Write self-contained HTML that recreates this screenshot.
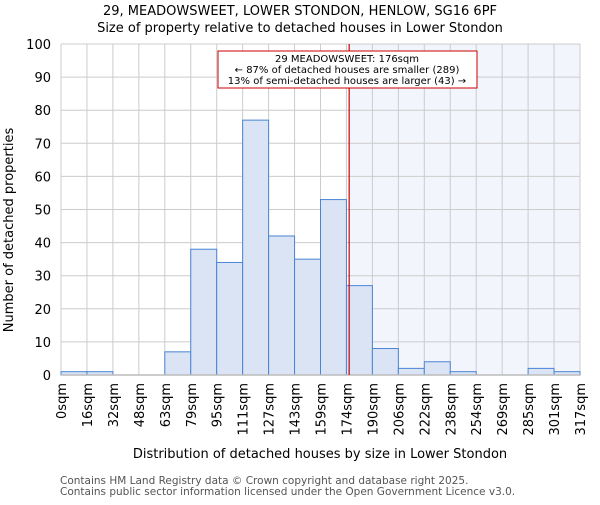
<!DOCTYPE html>
<html><head><meta charset="utf-8"><style>
body{margin:0;background:#fff;}
svg{font-family:"DejaVu Sans","Liberation Sans",sans-serif;}
</style></head><body>
<svg id="c" width="600" height="500" xmlns="http://www.w3.org/2000/svg">
<text x="300" y="15" text-anchor="middle" font-size="13">29, MEADOWSWEET, LOWER STONDON, HENLOW, SG16 6PF</text>
<text x="300" y="32" text-anchor="middle" font-size="13">Size of property relative to detached houses in Lower Stondon</text>
<g id="plot"></g>
<text transform="translate(13,230) rotate(-90)" text-anchor="middle" font-size="13">Number of detached properties</text>
<text x="320" y="458" text-anchor="middle" font-size="13">Distribution of detached houses by size in Lower Stondon</text>
<text x="60" y="484" font-size="10.5" fill="#555">Contains HM Land Registry data © Crown copyright and database right 2025.</text>
<text x="60" y="495" font-size="10.5" fill="#555">Contains public sector information licensed under the Open Government Licence v3.0.</text>
</svg>
<script>
const categories=["0sqm","16sqm","32sqm","48sqm","63sqm","79sqm","95sqm","111sqm","127sqm","143sqm","159sqm","174sqm","190sqm","206sqm","222sqm","238sqm","254sqm","269sqm","285sqm","301sqm","317sqm"];
const counts=[1,1,0,0,7,38,34,77,42,35,53,27,8,2,4,1,0,0,2,1];
const yTicks=[0,10,20,30,40,50,60,70,80,90,100];
const propertySize=176;
const binWidth=15.85;
const NS="http://www.w3.org/2000/svg";
const X0=61,X1=580,Y0=375,Y1=44;
const bw=(X1-X0)/counts.length;
const xb=i=>X0+i*bw;
const xv=v=>X0+v/binWidth*bw;
const y=v=>Y0-(v/100)*(Y0-Y1);
const g=document.getElementById('plot');
function mk(t,a){const e=document.createElementNS(NS,t);for(const k in a)e.setAttribute(k,a[k]);g.appendChild(e);return e;}
const px=xv(propertySize);
let e=mk('rect',{x:px,y:Y1,width:X1-px,height:Y0-Y1,fill:'#f2f5fc'});


yTicks.forEach(t=>{
 let l=mk('line',{x1:X0,x2:X1,y1:y(t),y2:y(t),stroke:'#cccccc','stroke-width':1});
 
 
 let tx=mk('text',{x:X0-10,y:y(t)+5,'text-anchor':'end','font-size':13});
 tx.textContent=t;
 
 
});
categories.forEach((c,i)=>{
 let l=mk('line',{x1:xb(i),x2:xb(i),y1:Y1,y2:Y0,stroke:'#cccccc','stroke-width':1});
 
 
 let tx=mk('text',{transform:`translate(${xb(i)+5},${Y0+8}) rotate(-90)`,'text-anchor':'end','font-size':13});
 tx.textContent=c;
 
 
});
counts.forEach((v,i)=>{
 if(v<=0)return;
 let r=mk('rect',{x:xb(i),y:y(v),width:bw,height:Y0-y(v),fill:'#dae4f4',stroke:'#4a84d4','stroke-width':1});
 
 
});
e=mk('line',{x1:X0,x2:X1,y1:Y0,y2:Y0,stroke:'#bbbbbb','stroke-width':1.5});


e=mk('line',{x1:px,x2:px,y1:Y1,y2:Y0,stroke:'#cc0000','stroke-width':1.2});


e=mk('rect',{x:218,y:51,width:259,height:37,fill:'#fff',stroke:'#cc0000','stroke-width':1});


["29 MEADOWSWEET: 176sqm","← 87% of detached houses are smaller (289)","13% of semi-detached houses are larger (43) →"].forEach((s,i)=>{
 let t=mk('text',{x:347,y:62+i*11,'text-anchor':'middle','font-size':10});
 t.textContent=s;
 
 
});
</script>
</body></html>
